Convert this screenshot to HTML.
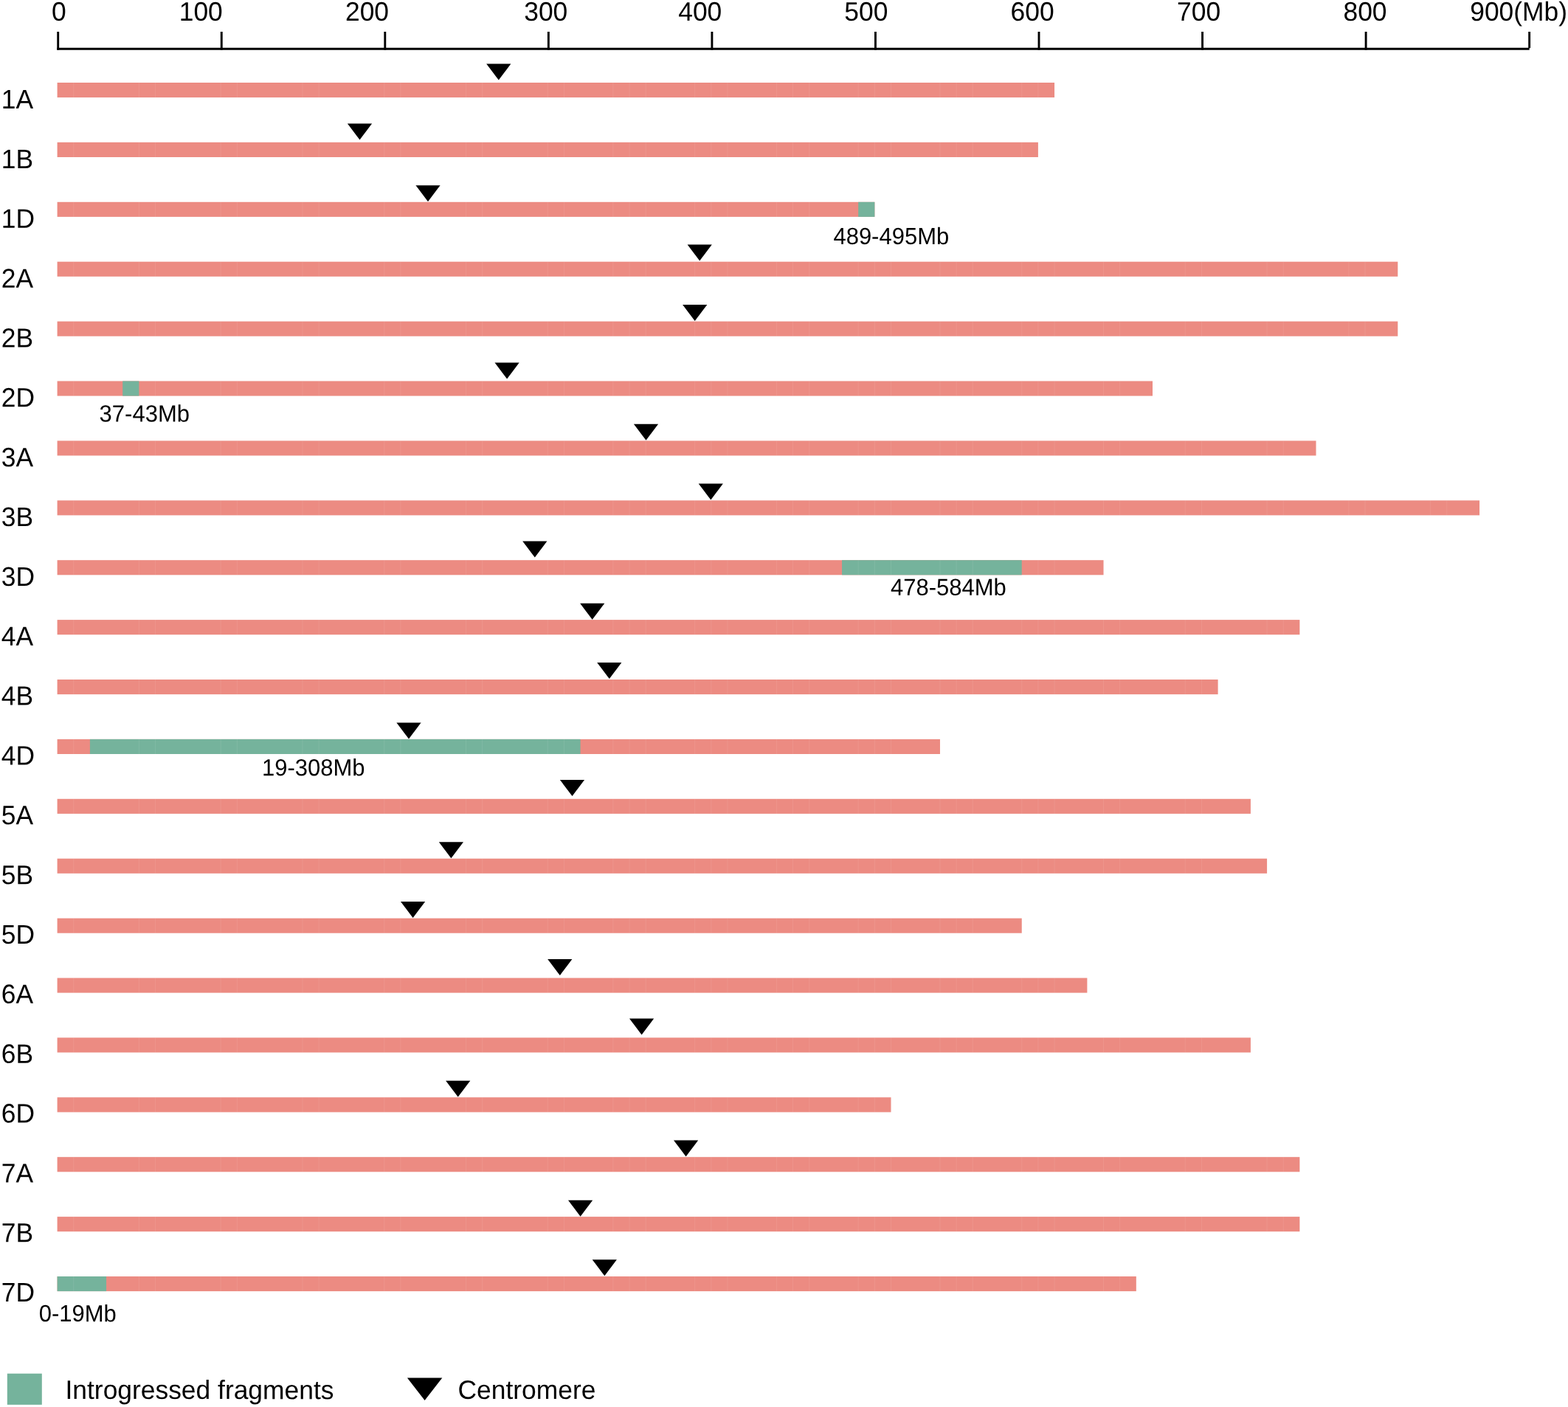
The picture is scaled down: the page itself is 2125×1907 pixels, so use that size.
<!DOCTYPE html>
<html lang="en">
<head>
<meta charset="utf-8">
<title>Introgressed fragments</title>
<style>
html,body{margin:0;padding:0;background:#fff;}
body{width:2125px;height:1907px;overflow:hidden;}
svg{display:block;}
text{font-family:"Liberation Sans",sans-serif;fill:#000;text-rendering:geometricPrecision;}
.ax,.ch,.lg{font-size:35.4px;}
.an{font-size:31.0px;}
.s{fill:#ec8b82;}
.g{fill:#75b39c;}
</style>
</head>
<body>
<svg width="2125" height="1907" viewBox="0 0 2125 1907">
<rect x="0" y="0" width="2125" height="1907" fill="#fff"/>
<g stroke="#000" stroke-width="2.9" fill="none" stroke-linecap="butt">
<path d="M77.25 66.2 H2072.65"/>
<path d="M78.7 43 V67.65"/>
<path d="M300.25 43 V67.65"/>
<path d="M521.8 43 V67.65"/>
<path d="M743.35 43 V67.65"/>
<path d="M964.9 43 V67.65"/>
<path d="M1186.45 43 V67.65"/>
<path d="M1408 43 V67.65"/>
<path d="M1629.55 43 V67.65"/>
<path d="M1851.1 43 V67.65"/>
<path d="M2072.65 43 V65.2"/>
</g>
<text class="ax" transform="matrix(1 .0005 0 1.02 70 28)">0</text>
<text class="ax" transform="matrix(1 .0005 0 1.02 242.7 28)">100</text>
<text class="ax" transform="matrix(1 .0005 0 1.02 468 28)">200</text>
<text class="ax" transform="matrix(1 .0005 0 1.02 710.2 28)">300</text>
<text class="ax" transform="matrix(1 .0005 0 1.02 919.2 28)">400</text>
<text class="ax" transform="matrix(1 .0005 0 1.02 1144.3 28)">500</text>
<text class="ax" transform="matrix(1 .0005 0 1.02 1369.6 28)">600</text>
<text class="ax" transform="matrix(1 .0005 0 1.02 1595.1 28)">700</text>
<text class="ax" transform="matrix(1 .0005 0 1.02 1820.5 28)">800</text>
<text class="ax" transform="matrix(1 .0005 0 1.02 1992.2 28)">900(Mb)</text>
<g>
<text class="ch" transform="matrix(1 .0005 0 1.03 1.7 147.1)">1A</text>
<rect class="s" x="77.6" y="112" width="1351.45" height="20.1"/>
<polygon points="659.2,86.4 692.4,86.4 675.8,108.4"/>
</g>
<g>
<text class="ch" transform="matrix(1 .0005 0 1.03 1.7 227.95)">1B</text>
<rect class="s" x="77.6" y="192.9" width="1329.3" height="20.1"/>
<polygon points="470.9,167.47 504.1,167.47 487.5,189.47"/>
</g>
<g>
<text class="ch" transform="matrix(1 .0005 0 1.03 1.7 308.8)">1D</text>
<rect class="s" x="77.6" y="273.8" width="1107.75" height="20.1"/>
<rect class="g" x="1163.19" y="273.8" width="22.16" height="20.1"/>
<polygon points="563.4,251.14 596.6,251.14 580,273.14"/>
<text class="an" transform="matrix(1 .0005 0 1.03 1129.4 330.9)">489-495Mb</text>
</g>
<g>
<text class="ch" transform="matrix(1 .0005 0 1.03 1.7 389.65)">2A</text>
<rect class="s" x="77.6" y="354.7" width="1816.71" height="20.1"/>
<polygon points="931.6,331.41 964.8,331.41 948.2,353.41"/>
</g>
<g>
<text class="ch" transform="matrix(1 .0005 0 1.03 1.7 470.5)">2B</text>
<rect class="s" x="77.6" y="435.6" width="1816.71" height="20.1"/>
<polygon points="925.1,413.08 958.3,413.08 941.7,435.08"/>
</g>
<g>
<text class="ch" transform="matrix(1 .0005 0 1.03 1.7 551.35)">2D</text>
<rect class="s" x="77.6" y="516.5" width="1484.38" height="20.1"/>
<rect class="g" x="166.22" y="516.5" width="22.16" height="20.1"/>
<polygon points="670.5,491.55 703.7,491.55 687.1,513.55"/>
<text class="an" transform="matrix(1 .0005 0 1.03 134.6 571.5)">37-43Mb</text>
</g>
<g>
<text class="ch" transform="matrix(1 .0005 0 1.03 1.7 632.2)">3A</text>
<rect class="s" x="77.6" y="597.4" width="1705.93" height="20.1"/>
<polygon points="858.9,574.82 892.1,574.82 875.5,596.82"/>
</g>
<g>
<text class="ch" transform="matrix(1 .0005 0 1.03 1.7 713.05)">3B</text>
<rect class="s" x="77.6" y="678.3" width="1927.49" height="20.1"/>
<polygon points="946.7,655.49 979.9,655.49 963.3,677.49"/>
</g>
<g>
<text class="ch" transform="matrix(1 .0005 0 1.03 1.7 793.9)">3D</text>
<rect class="s" x="77.6" y="759.2" width="1417.92" height="20.1"/>
<rect class="g" x="1141.04" y="759.2" width="243.71" height="20.1"/>
<polygon points="708.2,733.56 741.4,733.56 724.8,755.56"/>
<text class="an" transform="matrix(1 .0005 0 1.03 1207 806.8)">478-584Mb</text>
</g>
<g>
<text class="ch" transform="matrix(1 .0005 0 1.03 1.7 874.75)">4A</text>
<rect class="s" x="77.6" y="840.1" width="1683.78" height="20.1"/>
<polygon points="786.1,817.73 819.3,817.73 802.7,839.73"/>
</g>
<g>
<text class="ch" transform="matrix(1 .0005 0 1.03 1.7 955.6)">4B</text>
<rect class="s" x="77.6" y="921" width="1573.01" height="20.1"/>
<polygon points="809.2,898.1 842.4,898.1 825.8,920.1"/>
</g>
<g>
<text class="ch" transform="matrix(1 .0005 0 1.03 1.7 1036.45)">4D</text>
<rect class="s" x="77.6" y="1001.9" width="1196.37" height="20.1"/>
<rect class="g" x="121.91" y="1001.9" width="664.65" height="20.1"/>
<polygon points="537.4,979.47 570.6,979.47 554,1001.47"/>
<text class="an" transform="matrix(1 .0005 0 1.03 354.9 1051.3)">19-308Mb</text>
</g>
<g>
<text class="ch" transform="matrix(1 .0005 0 1.03 1.7 1117.3)">5A</text>
<rect class="s" x="77.6" y="1082.8" width="1617.32" height="20.1"/>
<polygon points="758.9,1057.04 792.1,1057.04 775.5,1079.04"/>
</g>
<g>
<text class="ch" transform="matrix(1 .0005 0 1.03 1.7 1198.15)">5B</text>
<rect class="s" x="77.6" y="1163.7" width="1639.47" height="20.1"/>
<polygon points="594.8,1141.21 628,1141.21 611.4,1163.21"/>
</g>
<g>
<text class="ch" transform="matrix(1 .0005 0 1.03 1.7 1279)">5D</text>
<rect class="s" x="77.6" y="1244.6" width="1307.14" height="20.1"/>
<polygon points="543,1222.08 576.2,1222.08 559.6,1244.08"/>
</g>
<g>
<text class="ch" transform="matrix(1 .0005 0 1.03 1.7 1359.85)">6A</text>
<rect class="s" x="77.6" y="1325.5" width="1395.77" height="20.1"/>
<polygon points="742.2,1299.95 775.4,1299.95 758.8,1321.95"/>
</g>
<g>
<text class="ch" transform="matrix(1 .0005 0 1.03 1.7 1440.7)">6B</text>
<rect class="s" x="77.6" y="1406.4" width="1617.32" height="20.1"/>
<polygon points="853,1380.56 886.2,1380.56 869.6,1402.56"/>
</g>
<g>
<text class="ch" transform="matrix(1 .0005 0 1.03 1.7 1521.55)">6D</text>
<rect class="s" x="77.6" y="1487.3" width="1129.9" height="20.1"/>
<polygon points="604.1,1464.69 637.3,1464.69 620.7,1486.69"/>
</g>
<g>
<text class="ch" transform="matrix(1 .0005 0 1.03 1.7 1602.4)">7A</text>
<rect class="s" x="77.6" y="1568.2" width="1683.78" height="20.1"/>
<polygon points="913,1545.56 946.2,1545.56 929.6,1567.56"/>
</g>
<g>
<text class="ch" transform="matrix(1 .0005 0 1.03 1.7 1683.25)">7B</text>
<rect class="s" x="77.6" y="1649.1" width="1683.78" height="20.1"/>
<polygon points="770,1626.73 803.2,1626.73 786.6,1648.73"/>
</g>
<g>
<text class="ch" transform="matrix(1 .0005 0 1.03 1.7 1764.1)">7D</text>
<rect class="s" x="77.6" y="1730" width="1462.23" height="20.1"/>
<rect class="g" x="77.6" y="1730" width="66.47" height="20.1"/>
<polygon points="802.7,1707.3 835.9,1707.3 819.3,1729.3"/>
<text class="an" transform="matrix(1 .0005 0 1.03 52.65 1791.1)">0-19Mb</text>
</g>
<path d="M99.75 112v20.1M188.38 112v20.1M210.53 112v20.1M299.15 112v20.1M321.31 112v20.1M409.92 112v20.1M432.08 112v20.1M520.7 112v20.1M542.86 112v20.1M631.48 112v20.1M653.63 112v20.1M742.25 112v20.1M764.41 112v20.1M830.87 112v20.1M853.02 112v20.1M875.18 112v20.1M941.64 112v20.1M963.8 112v20.1M985.96 112v20.1M1052.42 112v20.1M1074.58 112v20.1M1096.73 112v20.1M1163.19 112v20.1M1185.35 112v20.1M1207.5 112v20.1M1273.97 112v20.1M1296.12 112v20.1M1318.28 112v20.1M1384.74 112v20.1M1406.9 112v20.1M99.75 192.9v20.1M188.38 192.9v20.1M210.53 192.9v20.1M299.15 192.9v20.1M321.31 192.9v20.1M409.92 192.9v20.1M432.08 192.9v20.1M520.7 192.9v20.1M542.86 192.9v20.1M631.48 192.9v20.1M653.63 192.9v20.1M742.25 192.9v20.1M764.41 192.9v20.1M830.87 192.9v20.1M853.02 192.9v20.1M875.18 192.9v20.1M941.64 192.9v20.1M963.8 192.9v20.1M985.96 192.9v20.1M1052.42 192.9v20.1M1074.58 192.9v20.1M1096.73 192.9v20.1M1163.19 192.9v20.1M1185.35 192.9v20.1M1207.5 192.9v20.1M1273.97 192.9v20.1M1296.12 192.9v20.1M1318.28 192.9v20.1M1384.74 192.9v20.1M99.75 273.8v20.1M188.38 273.8v20.1M210.53 273.8v20.1M299.15 273.8v20.1M321.31 273.8v20.1M409.92 273.8v20.1M432.08 273.8v20.1M520.7 273.8v20.1M542.86 273.8v20.1M631.48 273.8v20.1M653.63 273.8v20.1M742.25 273.8v20.1M764.41 273.8v20.1M830.87 273.8v20.1M853.02 273.8v20.1M875.18 273.8v20.1M941.64 273.8v20.1M963.8 273.8v20.1M985.96 273.8v20.1M1052.42 273.8v20.1M1074.58 273.8v20.1M1096.73 273.8v20.1M99.75 354.7v20.1M188.38 354.7v20.1M210.53 354.7v20.1M299.15 354.7v20.1M321.31 354.7v20.1M409.92 354.7v20.1M432.08 354.7v20.1M520.7 354.7v20.1M542.86 354.7v20.1M631.48 354.7v20.1M653.63 354.7v20.1M742.25 354.7v20.1M764.41 354.7v20.1M830.87 354.7v20.1M853.02 354.7v20.1M875.18 354.7v20.1M941.64 354.7v20.1M963.8 354.7v20.1M985.96 354.7v20.1M1052.42 354.7v20.1M1074.58 354.7v20.1M1096.73 354.7v20.1M1163.19 354.7v20.1M1185.35 354.7v20.1M1207.5 354.7v20.1M1273.97 354.7v20.1M1296.12 354.7v20.1M1318.28 354.7v20.1M1384.74 354.7v20.1M1406.9 354.7v20.1M1429.05 354.7v20.1M1495.52 354.7v20.1M1517.67 354.7v20.1M1606.29 354.7v20.1M1628.45 354.7v20.1M1717.07 354.7v20.1M1739.22 354.7v20.1M1827.85 354.7v20.1M1850 354.7v20.1M99.75 435.6v20.1M188.38 435.6v20.1M210.53 435.6v20.1M299.15 435.6v20.1M321.31 435.6v20.1M409.92 435.6v20.1M432.08 435.6v20.1M520.7 435.6v20.1M542.86 435.6v20.1M631.48 435.6v20.1M653.63 435.6v20.1M742.25 435.6v20.1M764.41 435.6v20.1M830.87 435.6v20.1M853.02 435.6v20.1M875.18 435.6v20.1M941.64 435.6v20.1M963.8 435.6v20.1M985.96 435.6v20.1M1052.42 435.6v20.1M1074.58 435.6v20.1M1096.73 435.6v20.1M1163.19 435.6v20.1M1185.35 435.6v20.1M1207.5 435.6v20.1M1273.97 435.6v20.1M1296.12 435.6v20.1M1318.28 435.6v20.1M1384.74 435.6v20.1M1406.9 435.6v20.1M1429.05 435.6v20.1M1495.52 435.6v20.1M1517.67 435.6v20.1M1606.29 435.6v20.1M1628.45 435.6v20.1M1717.07 435.6v20.1M1739.22 435.6v20.1M1827.85 435.6v20.1M1850 435.6v20.1M99.75 516.5v20.1M210.53 516.5v20.1M299.15 516.5v20.1M321.31 516.5v20.1M409.92 516.5v20.1M432.08 516.5v20.1M520.7 516.5v20.1M542.86 516.5v20.1M631.48 516.5v20.1M653.63 516.5v20.1M742.25 516.5v20.1M764.41 516.5v20.1M830.87 516.5v20.1M853.02 516.5v20.1M875.18 516.5v20.1M941.64 516.5v20.1M963.8 516.5v20.1M985.96 516.5v20.1M1052.42 516.5v20.1M1074.58 516.5v20.1M1096.73 516.5v20.1M1163.19 516.5v20.1M1185.35 516.5v20.1M1207.5 516.5v20.1M1273.97 516.5v20.1M1296.12 516.5v20.1M1318.28 516.5v20.1M1384.74 516.5v20.1M1406.9 516.5v20.1M1429.05 516.5v20.1M1495.52 516.5v20.1M1517.67 516.5v20.1M99.75 597.4v20.1M188.38 597.4v20.1M210.53 597.4v20.1M299.15 597.4v20.1M321.31 597.4v20.1M409.92 597.4v20.1M432.08 597.4v20.1M520.7 597.4v20.1M542.86 597.4v20.1M631.48 597.4v20.1M653.63 597.4v20.1M742.25 597.4v20.1M764.41 597.4v20.1M830.87 597.4v20.1M853.02 597.4v20.1M875.18 597.4v20.1M941.64 597.4v20.1M963.8 597.4v20.1M985.96 597.4v20.1M1052.42 597.4v20.1M1074.58 597.4v20.1M1096.73 597.4v20.1M1163.19 597.4v20.1M1185.35 597.4v20.1M1207.5 597.4v20.1M1273.97 597.4v20.1M1296.12 597.4v20.1M1318.28 597.4v20.1M1384.74 597.4v20.1M1406.9 597.4v20.1M1429.05 597.4v20.1M1495.52 597.4v20.1M1517.67 597.4v20.1M1606.29 597.4v20.1M1628.45 597.4v20.1M1717.07 597.4v20.1M1739.22 597.4v20.1M99.75 678.3v20.1M188.38 678.3v20.1M210.53 678.3v20.1M299.15 678.3v20.1M321.31 678.3v20.1M409.92 678.3v20.1M432.08 678.3v20.1M520.7 678.3v20.1M542.86 678.3v20.1M631.48 678.3v20.1M653.63 678.3v20.1M742.25 678.3v20.1M764.41 678.3v20.1M830.87 678.3v20.1M853.02 678.3v20.1M875.18 678.3v20.1M941.64 678.3v20.1M963.8 678.3v20.1M985.96 678.3v20.1M1052.42 678.3v20.1M1074.58 678.3v20.1M1096.73 678.3v20.1M1163.19 678.3v20.1M1185.35 678.3v20.1M1207.5 678.3v20.1M1273.97 678.3v20.1M1296.12 678.3v20.1M1318.28 678.3v20.1M1384.74 678.3v20.1M1406.9 678.3v20.1M1429.05 678.3v20.1M1495.52 678.3v20.1M1517.67 678.3v20.1M1606.29 678.3v20.1M1628.45 678.3v20.1M1717.07 678.3v20.1M1739.22 678.3v20.1M1827.85 678.3v20.1M1850 678.3v20.1M1938.62 678.3v20.1M1960.77 678.3v20.1M99.75 759.2v20.1M188.38 759.2v20.1M210.53 759.2v20.1M299.15 759.2v20.1M321.31 759.2v20.1M409.92 759.2v20.1M432.08 759.2v20.1M520.7 759.2v20.1M542.86 759.2v20.1M631.48 759.2v20.1M653.63 759.2v20.1M742.25 759.2v20.1M764.41 759.2v20.1M830.87 759.2v20.1M853.02 759.2v20.1M875.18 759.2v20.1M941.64 759.2v20.1M963.8 759.2v20.1M985.96 759.2v20.1M1052.42 759.2v20.1M1074.58 759.2v20.1M1096.73 759.2v20.1M1163.19 759.2v20.1M1185.35 759.2v20.1M1207.5 759.2v20.1M1273.97 759.2v20.1M1296.12 759.2v20.1M1318.28 759.2v20.1M1406.9 759.2v20.1M1429.05 759.2v20.1M99.75 840.1v20.1M188.38 840.1v20.1M210.53 840.1v20.1M299.15 840.1v20.1M321.31 840.1v20.1M409.92 840.1v20.1M432.08 840.1v20.1M520.7 840.1v20.1M542.86 840.1v20.1M631.48 840.1v20.1M653.63 840.1v20.1M742.25 840.1v20.1M764.41 840.1v20.1M830.87 840.1v20.1M853.02 840.1v20.1M875.18 840.1v20.1M941.64 840.1v20.1M963.8 840.1v20.1M985.96 840.1v20.1M1052.42 840.1v20.1M1074.58 840.1v20.1M1096.73 840.1v20.1M1163.19 840.1v20.1M1185.35 840.1v20.1M1207.5 840.1v20.1M1273.97 840.1v20.1M1296.12 840.1v20.1M1318.28 840.1v20.1M1384.74 840.1v20.1M1406.9 840.1v20.1M1429.05 840.1v20.1M1495.52 840.1v20.1M1517.67 840.1v20.1M1606.29 840.1v20.1M1628.45 840.1v20.1M1717.07 840.1v20.1M1739.22 840.1v20.1M99.75 921v20.1M188.38 921v20.1M210.53 921v20.1M299.15 921v20.1M321.31 921v20.1M409.92 921v20.1M432.08 921v20.1M520.7 921v20.1M542.86 921v20.1M631.48 921v20.1M653.63 921v20.1M742.25 921v20.1M764.41 921v20.1M830.87 921v20.1M853.02 921v20.1M875.18 921v20.1M941.64 921v20.1M963.8 921v20.1M985.96 921v20.1M1052.42 921v20.1M1074.58 921v20.1M1096.73 921v20.1M1163.19 921v20.1M1185.35 921v20.1M1207.5 921v20.1M1273.97 921v20.1M1296.12 921v20.1M1318.28 921v20.1M1384.74 921v20.1M1406.9 921v20.1M1429.05 921v20.1M1495.52 921v20.1M1517.67 921v20.1M1606.29 921v20.1M1628.45 921v20.1M99.75 1001.9v20.1M188.38 1001.9v20.1M210.53 1001.9v20.1M299.15 1001.9v20.1M321.31 1001.9v20.1M409.92 1001.9v20.1M432.08 1001.9v20.1M520.7 1001.9v20.1M542.86 1001.9v20.1M631.48 1001.9v20.1M653.63 1001.9v20.1M742.25 1001.9v20.1M764.41 1001.9v20.1M830.87 1001.9v20.1M853.02 1001.9v20.1M875.18 1001.9v20.1M941.64 1001.9v20.1M963.8 1001.9v20.1M985.96 1001.9v20.1M1052.42 1001.9v20.1M1074.58 1001.9v20.1M1096.73 1001.9v20.1M1163.19 1001.9v20.1M1185.35 1001.9v20.1M1207.5 1001.9v20.1M99.75 1082.8v20.1M188.38 1082.8v20.1M210.53 1082.8v20.1M299.15 1082.8v20.1M321.31 1082.8v20.1M409.92 1082.8v20.1M432.08 1082.8v20.1M520.7 1082.8v20.1M542.86 1082.8v20.1M631.48 1082.8v20.1M653.63 1082.8v20.1M742.25 1082.8v20.1M764.41 1082.8v20.1M830.87 1082.8v20.1M853.02 1082.8v20.1M875.18 1082.8v20.1M941.64 1082.8v20.1M963.8 1082.8v20.1M985.96 1082.8v20.1M1052.42 1082.8v20.1M1074.58 1082.8v20.1M1096.73 1082.8v20.1M1163.19 1082.8v20.1M1185.35 1082.8v20.1M1207.5 1082.8v20.1M1273.97 1082.8v20.1M1296.12 1082.8v20.1M1318.28 1082.8v20.1M1384.74 1082.8v20.1M1406.9 1082.8v20.1M1429.05 1082.8v20.1M1495.52 1082.8v20.1M1517.67 1082.8v20.1M1606.29 1082.8v20.1M1628.45 1082.8v20.1M99.75 1163.7v20.1M188.38 1163.7v20.1M210.53 1163.7v20.1M299.15 1163.7v20.1M321.31 1163.7v20.1M409.92 1163.7v20.1M432.08 1163.7v20.1M520.7 1163.7v20.1M542.86 1163.7v20.1M631.48 1163.7v20.1M653.63 1163.7v20.1M742.25 1163.7v20.1M764.41 1163.7v20.1M830.87 1163.7v20.1M853.02 1163.7v20.1M875.18 1163.7v20.1M941.64 1163.7v20.1M963.8 1163.7v20.1M985.96 1163.7v20.1M1052.42 1163.7v20.1M1074.58 1163.7v20.1M1096.73 1163.7v20.1M1163.19 1163.7v20.1M1185.35 1163.7v20.1M1207.5 1163.7v20.1M1273.97 1163.7v20.1M1296.12 1163.7v20.1M1318.28 1163.7v20.1M1384.74 1163.7v20.1M1406.9 1163.7v20.1M1429.05 1163.7v20.1M1495.52 1163.7v20.1M1517.67 1163.7v20.1M1606.29 1163.7v20.1M1628.45 1163.7v20.1M99.75 1244.6v20.1M188.38 1244.6v20.1M210.53 1244.6v20.1M299.15 1244.6v20.1M321.31 1244.6v20.1M409.92 1244.6v20.1M432.08 1244.6v20.1M520.7 1244.6v20.1M542.86 1244.6v20.1M631.48 1244.6v20.1M653.63 1244.6v20.1M742.25 1244.6v20.1M764.41 1244.6v20.1M830.87 1244.6v20.1M853.02 1244.6v20.1M875.18 1244.6v20.1M941.64 1244.6v20.1M963.8 1244.6v20.1M985.96 1244.6v20.1M1052.42 1244.6v20.1M1074.58 1244.6v20.1M1096.73 1244.6v20.1M1163.19 1244.6v20.1M1185.35 1244.6v20.1M1207.5 1244.6v20.1M1273.97 1244.6v20.1M1296.12 1244.6v20.1M1318.28 1244.6v20.1M99.75 1325.5v20.1M188.38 1325.5v20.1M210.53 1325.5v20.1M299.15 1325.5v20.1M321.31 1325.5v20.1M409.92 1325.5v20.1M432.08 1325.5v20.1M520.7 1325.5v20.1M542.86 1325.5v20.1M631.48 1325.5v20.1M653.63 1325.5v20.1M742.25 1325.5v20.1M764.41 1325.5v20.1M830.87 1325.5v20.1M853.02 1325.5v20.1M875.18 1325.5v20.1M941.64 1325.5v20.1M963.8 1325.5v20.1M985.96 1325.5v20.1M1052.42 1325.5v20.1M1074.58 1325.5v20.1M1096.73 1325.5v20.1M1163.19 1325.5v20.1M1185.35 1325.5v20.1M1207.5 1325.5v20.1M1273.97 1325.5v20.1M1296.12 1325.5v20.1M1318.28 1325.5v20.1M1384.74 1325.5v20.1M1406.9 1325.5v20.1M1429.05 1325.5v20.1M99.75 1406.4v20.1M188.38 1406.4v20.1M210.53 1406.4v20.1M299.15 1406.4v20.1M321.31 1406.4v20.1M409.92 1406.4v20.1M432.08 1406.4v20.1M520.7 1406.4v20.1M542.86 1406.4v20.1M631.48 1406.4v20.1M653.63 1406.4v20.1M742.25 1406.4v20.1M764.41 1406.4v20.1M830.87 1406.4v20.1M853.02 1406.4v20.1M875.18 1406.4v20.1M941.64 1406.4v20.1M963.8 1406.4v20.1M985.96 1406.4v20.1M1052.42 1406.4v20.1M1074.58 1406.4v20.1M1096.73 1406.4v20.1M1163.19 1406.4v20.1M1185.35 1406.4v20.1M1207.5 1406.4v20.1M1273.97 1406.4v20.1M1296.12 1406.4v20.1M1318.28 1406.4v20.1M1384.74 1406.4v20.1M1406.9 1406.4v20.1M1429.05 1406.4v20.1M1495.52 1406.4v20.1M1517.67 1406.4v20.1M1606.29 1406.4v20.1M1628.45 1406.4v20.1M99.75 1487.3v20.1M188.38 1487.3v20.1M210.53 1487.3v20.1M299.15 1487.3v20.1M321.31 1487.3v20.1M409.92 1487.3v20.1M432.08 1487.3v20.1M520.7 1487.3v20.1M542.86 1487.3v20.1M631.48 1487.3v20.1M653.63 1487.3v20.1M742.25 1487.3v20.1M764.41 1487.3v20.1M830.87 1487.3v20.1M853.02 1487.3v20.1M875.18 1487.3v20.1M941.64 1487.3v20.1M963.8 1487.3v20.1M985.96 1487.3v20.1M1052.42 1487.3v20.1M1074.58 1487.3v20.1M1096.73 1487.3v20.1M1163.19 1487.3v20.1M1185.35 1487.3v20.1M99.75 1568.2v20.1M188.38 1568.2v20.1M210.53 1568.2v20.1M299.15 1568.2v20.1M321.31 1568.2v20.1M409.92 1568.2v20.1M432.08 1568.2v20.1M520.7 1568.2v20.1M542.86 1568.2v20.1M631.48 1568.2v20.1M653.63 1568.2v20.1M742.25 1568.2v20.1M764.41 1568.2v20.1M830.87 1568.2v20.1M853.02 1568.2v20.1M875.18 1568.2v20.1M941.64 1568.2v20.1M963.8 1568.2v20.1M985.96 1568.2v20.1M1052.42 1568.2v20.1M1074.58 1568.2v20.1M1096.73 1568.2v20.1M1163.19 1568.2v20.1M1185.35 1568.2v20.1M1207.5 1568.2v20.1M1273.97 1568.2v20.1M1296.12 1568.2v20.1M1318.28 1568.2v20.1M1384.74 1568.2v20.1M1406.9 1568.2v20.1M1429.05 1568.2v20.1M1495.52 1568.2v20.1M1517.67 1568.2v20.1M1606.29 1568.2v20.1M1628.45 1568.2v20.1M1717.07 1568.2v20.1M1739.22 1568.2v20.1M99.75 1649.1v20.1M188.38 1649.1v20.1M210.53 1649.1v20.1M299.15 1649.1v20.1M321.31 1649.1v20.1M409.92 1649.1v20.1M432.08 1649.1v20.1M520.7 1649.1v20.1M542.86 1649.1v20.1M631.48 1649.1v20.1M653.63 1649.1v20.1M742.25 1649.1v20.1M764.41 1649.1v20.1M830.87 1649.1v20.1M853.02 1649.1v20.1M875.18 1649.1v20.1M941.64 1649.1v20.1M963.8 1649.1v20.1M985.96 1649.1v20.1M1052.42 1649.1v20.1M1074.58 1649.1v20.1M1096.73 1649.1v20.1M1163.19 1649.1v20.1M1185.35 1649.1v20.1M1207.5 1649.1v20.1M1273.97 1649.1v20.1M1296.12 1649.1v20.1M1318.28 1649.1v20.1M1384.74 1649.1v20.1M1406.9 1649.1v20.1M1429.05 1649.1v20.1M1495.52 1649.1v20.1M1517.67 1649.1v20.1M1606.29 1649.1v20.1M1628.45 1649.1v20.1M1717.07 1649.1v20.1M1739.22 1649.1v20.1M99.75 1730v20.1M188.38 1730v20.1M210.53 1730v20.1M299.15 1730v20.1M321.31 1730v20.1M409.92 1730v20.1M432.08 1730v20.1M520.7 1730v20.1M542.86 1730v20.1M631.48 1730v20.1M653.63 1730v20.1M742.25 1730v20.1M764.41 1730v20.1M830.87 1730v20.1M853.02 1730v20.1M875.18 1730v20.1M941.64 1730v20.1M963.8 1730v20.1M985.96 1730v20.1M1052.42 1730v20.1M1074.58 1730v20.1M1096.73 1730v20.1M1163.19 1730v20.1M1185.35 1730v20.1M1207.5 1730v20.1M1273.97 1730v20.1M1296.12 1730v20.1M1318.28 1730v20.1M1384.74 1730v20.1M1406.9 1730v20.1M1429.05 1730v20.1M1495.52 1730v20.1M1517.67 1730v20.1" stroke="#fff" stroke-opacity="0.08" stroke-width="1.1" fill="none"/>
<rect class="g" x="9.8" y="1861.7" width="47" height="42.2"/>
<text class="lg" transform="matrix(1 .0005 0 1.015 88.5 1896)">Introgressed fragments</text>
<polygon points="551.9,1867.5 599.3,1867.5 575.6,1898"/>
<text class="lg" transform="matrix(1 .0005 0 1.015 620.5 1896)">Centromere</text>
</svg>
</body>
</html>
